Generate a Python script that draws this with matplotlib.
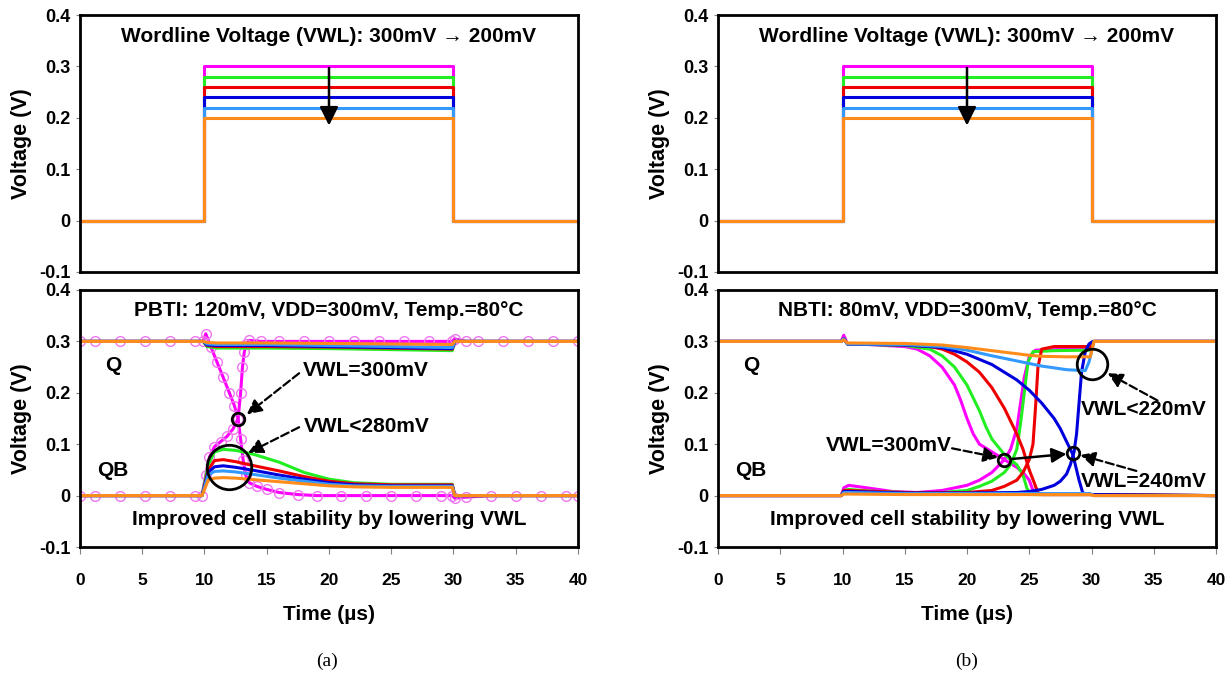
import matplotlib
matplotlib.use('Agg')
import matplotlib.pyplot as plt

plt.rcParams['font.family'] = ['Liberation Sans', 'DejaVu Sans']
plt.rcParams['font.weight'] = 'bold'

# wordline pulse (top panels)
vwl_levels = [0.30, 0.28, 0.26, 0.24, 0.22, 0.20]
colors = ['#ff00ff', '#22ee22', '#ee0000', '#0000dd', '#3399ff', '#ff8c1a']
pulse_t = [0, 10, 10, 30, 30, 40]

# ---- PBTI (a), bottom panel ----
a_q_t = [0, 9.9, 10.2, 11, 15, 20, 25, 29.9, 30.1, 40]
a_q = [
    None,  # magenta handled separately (flips)
    [0.3, 0.3, 0.29, 0.287, 0.287, 0.286, 0.284, 0.282, 0.3, 0.3],
    [0.3, 0.3, 0.292, 0.29, 0.29, 0.289, 0.287, 0.285, 0.3, 0.3],
    [0.3, 0.3, 0.293, 0.292, 0.292, 0.29, 0.288, 0.286, 0.3, 0.3],
    [0.3, 0.3, 0.295, 0.294, 0.294, 0.292, 0.29, 0.288, 0.3, 0.3],
    [0.3, 0.3, 0.298, 0.297, 0.297, 0.296, 0.295, 0.294, 0.3, 0.3],
]
a_qb_t = [0, 9.8, 10.3, 10.8, 11.5, 12.5, 14, 16, 18, 20, 22, 25, 29.9, 30.1, 40]
a_qb = [
    None,
    [0, 0, 0.06, 0.085, 0.09, 0.088, 0.08, 0.065, 0.045, 0.032, 0.025, 0.022, 0.022, 0, 0],
    [0, 0, 0.05, 0.068, 0.07, 0.066, 0.058, 0.048, 0.037, 0.028, 0.023, 0.021, 0.021, 0, 0],
    [0, 0, 0.045, 0.056, 0.058, 0.055, 0.049, 0.04, 0.032, 0.025, 0.021, 0.019, 0.019, 0, 0],
    [0, 0, 0.04, 0.047, 0.048, 0.046, 0.041, 0.034, 0.028, 0.022, 0.019, 0.018, 0.018, 0, 0],
    [0, 0, 0.03, 0.034, 0.035, 0.034, 0.031, 0.027, 0.023, 0.019, 0.017, 0.016, 0.016, 0, 0],
]
# VWL=300mV cell flips (magenta, with circle markers)
a_mq_t = [0, 1.2, 3.2, 5.2, 7.2, 9.2, 9.9, 10.1, 10.5, 11, 11.5, 12, 12.4, 12.7, 12.9, 13.1,
          13.3, 13.6, 14.2, 15, 16, 17.5, 19, 21, 23, 25, 27, 29, 29.9, 30.1, 31, 33, 35, 37, 39, 40]
a_mq = [0.3, 0.3, 0.3, 0.3, 0.3, 0.3, 0.3, 0.315, 0.29, 0.26, 0.23, 0.2, 0.175, 0.15, 0.11, 0.07,
        0.04, 0.025, 0.018, 0.012, 0.006, 0.002, 0.0, 0.0, 0.0, 0.0, 0.0, 0.0, 0.0, -0.005, -0.003,
        0.0, 0.0, 0.0, 0.0, 0.0]
a_mqb_t = [0, 1.2, 3.2, 5.2, 7.2, 9.2, 9.8, 10.1, 10.4, 10.8, 11.3, 11.8, 12.3, 12.7, 12.9,
           13.05, 13.2, 13.35, 13.6, 14.5, 16, 18, 20, 22, 24, 26, 28, 29.9, 30.1, 31, 32, 34, 36, 38, 40]
a_mqb = [0.0, 0.0, 0.0, 0.0, 0.0, 0.0, 0.0, 0.04, 0.075, 0.095, 0.105, 0.115, 0.13, 0.15, 0.2,
         0.25, 0.28, 0.295, 0.302, 0.3, 0.3, 0.3, 0.3, 0.3, 0.3, 0.3, 0.3, 0.3, 0.305, 0.3, 0.3,
         0.3, 0.3, 0.3, 0.3]

# ---- NBTI (b), bottom panel ----
b_q = [
    ([0, 9.9, 10.1, 10.4, 12, 15, 16, 17, 18, 19, 19.5, 20, 20.5, 21, 22, 23, 24, 24.5, 25, 25.3, 25.6, 30, 40],
     [0.3, 0.3, 0.312, 0.295, 0.294, 0.29, 0.285, 0.272, 0.25, 0.215, 0.185, 0.15, 0.12, 0.1, 0.085,
      0.07, 0.055, 0.045, 0.03, 0.01, 0.002, 0.002, 0.0]),
    ([0, 9.9, 10.1, 10.4, 12, 15, 17, 18, 19, 20, 21, 21.5, 22, 23, 24, 24.5, 24.8, 25.1, 30, 40],
     [0.3, 0.3, 0.305, 0.295, 0.294, 0.292, 0.285, 0.272, 0.25, 0.215, 0.165, 0.135, 0.11, 0.08,
      0.06, 0.04, 0.015, 0.002, 0.002, 0.0]),
    ([0, 9.9, 10.1, 10.4, 15, 17, 18, 19, 20, 21, 22, 23, 24, 24.5, 25, 25.4, 25.7, 26, 30, 40],
     [0.3, 0.3, 0.305, 0.295, 0.293, 0.29, 0.285, 0.275, 0.26, 0.24, 0.21, 0.17, 0.12, 0.09, 0.05,
      0.025, 0.005, 0.002, 0.002, 0.0]),
    ([0, 9.9, 10.1, 10.4, 15, 17, 18, 20, 22, 24, 25, 26, 27, 27.5, 28, 28.5, 28.8, 29.0, 29.3, 30, 40],
     [0.3, 0.3, 0.305, 0.295, 0.293, 0.29, 0.288, 0.275, 0.255, 0.225, 0.205, 0.18, 0.15, 0.13,
      0.105, 0.08, 0.05, 0.03, 0.005, 0.002, 0.0]),
    ([0, 9.9, 10.1, 10.4, 15, 18, 20, 22, 24, 26, 28, 29.5, 29.8, 30.2, 40],
     [0.3, 0.3, 0.305, 0.295, 0.294, 0.29, 0.283, 0.272, 0.262, 0.252, 0.245, 0.243, 0.26, 0.3, 0.3]),
    ([0, 9.9, 10.1, 10.4, 15, 18, 20, 22, 24, 25, 26, 28, 29.9, 30.2, 40],
     [0.3, 0.3, 0.303, 0.297, 0.296, 0.293, 0.288, 0.282, 0.276, 0.273, 0.271, 0.27, 0.27, 0.3, 0.3]),
]
b_qb = [
    ([0, 9.9, 10.1, 10.5, 12, 14, 16, 18, 20, 21, 22, 23, 23.5, 24, 24.3, 24.6, 25, 25.5, 27, 29.9, 30.2, 40],
     [0, 0, 0.015, 0.02, 0.015, 0.008, 0.006, 0.01, 0.02, 0.03, 0.045, 0.07, 0.09, 0.13, 0.18,
      0.23, 0.27, 0.283, 0.284, 0.285, 0.3, 0.3]),
    ([0, 9.9, 10.1, 10.5, 12, 15, 18, 20, 21, 22, 23, 23.5, 24, 24.3, 24.6, 24.9, 25.3, 27, 29.9, 30.2, 40],
     [0, 0, 0.01, 0.012, 0.009, 0.006, 0.006, 0.01, 0.018, 0.028, 0.045, 0.06, 0.09, 0.14, 0.2,
      0.26, 0.28, 0.282, 0.283, 0.3, 0.3]),
    ([0, 9.9, 10.1, 10.5, 15, 20, 22, 23, 24, 24.5, 25, 25.3, 25.5, 25.7, 26, 27, 29.9, 30.2, 40],
     [0, 0, 0.01, 0.01, 0.006, 0.006, 0.01, 0.018, 0.03, 0.045, 0.07, 0.1, 0.17, 0.25, 0.285,
      0.29, 0.29, 0.3, 0.3]),
    ([0, 9.9, 10.1, 10.5, 15, 20, 24, 25, 26, 27, 27.5, 28, 28.3, 28.6, 28.8, 29.0, 29.2, 29.5, 29.8, 30.1, 40],
     [0, 0, 0.008, 0.008, 0.005, 0.005, 0.006, 0.008, 0.012, 0.02, 0.028, 0.042, 0.06, 0.085,
      0.12, 0.18, 0.24, 0.28, 0.295, 0.3, 0.3]),
    ([0, 9.9, 10.1, 10.5, 15, 20, 25, 29.9, 30.2, 40],
     [0, 0, 0.006, 0.006, 0.004, 0.004, 0.004, 0.004, 0, 0]),
    ([0, 9.9, 10.1, 10.5, 15, 20, 25, 29.9, 30.2, 40],
     [0, 0, 0.003, 0.003, 0.002, 0.002, 0.002, 0.002, 0, 0]),
]

x_ticks = [0, 5, 10, 15, 20, 25, 30, 35, 40]
y_ticks = [-0.1, 0, 0.1, 0.2, 0.3, 0.4]
y_labels = ['-0.1', '0', '0.1', '0.2', '0.3', '0.4']

LW = 2.2
FS = 15
fig = plt.figure(figsize=(12.32, 6.78), dpi=100)
dashed = dict(arrowstyle='-|>', color='black', lw=1.6, ls='--', mutation_scale=22,
              shrinkA=0, shrinkB=0)
solid = dict(arrowstyle='-|>', color='black', lw=1.8, mutation_scale=22, shrinkA=0, shrinkB=0)


def style(ax, bottom):
    ax.set_xlim(0, 40)
    ax.set_ylim(-0.1, 0.4)
    ax.set_yticks(y_ticks)
    ax.set_yticklabels(y_labels)
    ax.set_ylabel('Voltage (V)', fontsize=15.5, fontweight='bold', labelpad=5)
    for s in ax.spines.values():
        s.set_linewidth(2)
    ax.tick_params(axis='y', length=3, color='gray', labelsize=13, pad=4)
    if bottom:
        ax.set_xticks(x_ticks)
        ax.tick_params(axis='x', length=5, color='gray', labelsize=12.5, pad=14)
        ax.set_xlabel('Time (\u00b5s)', fontsize=15, fontweight='bold', labelpad=12)
    else:
        ax.set_xticks([])


xs = [80 / 1232, 718 / 1232]
w = 498 / 1232
h = 257 / 678
tops = []
bots = []
for x0 in xs:
    at = fig.add_axes([x0, 1 - 272 / 678, w, h])
    ab = fig.add_axes([x0, 1 - 547 / 678, w, h])
    tops.append(at)
    bots.append(ab)
    for lvl, c in zip(vwl_levels, colors):
        at.plot(pulse_t, [0, 0, lvl, lvl, 0, 0], color=c, lw=LW)
    at.text(20, 0.358, 'Wordline Voltage (VWL): 300mV \u2192 200mV', ha='center', va='center',
            fontsize=FS, fontweight='bold')
    at.annotate('', xy=(20, 0.185), xytext=(20, 0.297),
                arrowprops=dict(arrowstyle='-|>', color='black', lw=1.8, mutation_scale=28,
                                shrinkA=0, shrinkB=0))
    style(at, False)
    style(ab, True)

# (a) PBTI
ax = bots[0]
ax.plot(a_mq_t, a_mq, color=colors[0], lw=LW, marker='o', ms=7, mfc='none', mec='#ee77ee', mew=1)
ax.plot(a_mqb_t, a_mqb, color=colors[0], lw=LW, marker='o', ms=7, mfc='none', mec='#ee77ee', mew=1)
for i in range(1, 6):
    ax.plot(a_q_t, a_q[i], color=colors[i], lw=LW)
    ax.plot(a_qb_t, a_qb[i], color=colors[i], lw=LW)
ax.text(20, 0.36, 'PBTI: 120mV, VDD=300mV, Temp.=80\u00b0C', ha='center', va='center',
        fontsize=FS, fontweight='bold')
ax.text(20, -0.047, 'Improved cell stability by lowering VWL', ha='center', va='center',
        fontsize=FS, fontweight='bold')
ax.text(2.7, 0.254, 'Q', ha='center', va='center', fontsize=FS, fontweight='bold')
ax.text(2.6, 0.048, 'QB', ha='center', va='center', fontsize=FS, fontweight='bold')
ax.plot([12.7], [0.15], 'o', ms=9, mfc='none', mec='black', mew=2)
ax.plot([12.0], [0.056], 'o', ms=32, mfc='none', mec='black', mew=2)
ax.text(17.9, 0.244, 'VWL=300mV', ha='left', va='center', fontsize=FS, fontweight='bold')
ax.annotate('', xy=(13.4, 0.158), xytext=(17.6, 0.238), arrowprops=dashed)
ax.text(18.0, 0.135, 'VWL<280mV', ha='left', va='center', fontsize=FS, fontweight='bold')
ax.annotate('', xy=(13.5, 0.083), xytext=(17.6, 0.133), arrowprops=dashed)

# (b) NBTI
ax = bots[1]
for i in range(6):
    ax.plot(b_q[i][0], b_q[i][1], color=colors[i], lw=LW)
    ax.plot(b_qb[i][0], b_qb[i][1], color=colors[i], lw=LW)
ax.text(20, 0.36, 'NBTI: 80mV, VDD=300mV, Temp.=80\u00b0C', ha='center', va='center',
        fontsize=FS, fontweight='bold')
ax.text(20, -0.047, 'Improved cell stability by lowering VWL', ha='center', va='center',
        fontsize=FS, fontweight='bold')
ax.text(2.7, 0.254, 'Q', ha='center', va='center', fontsize=FS, fontweight='bold')
ax.text(2.6, 0.048, 'QB', ha='center', va='center', fontsize=FS, fontweight='bold')
ax.plot([23.0], [0.07], 'o', ms=9, mfc='none', mec='black', mew=2)
ax.plot([28.5], [0.082], 'o', ms=9, mfc='none', mec='black', mew=2)
ax.plot([30.0], [0.257], 'o', ms=22, mfc='none', mec='black', mew=2)
ax.annotate('', xy=(28.0, 0.081), xytext=(23.5, 0.071), arrowprops=solid)
ax.text(13.7, 0.098, 'VWL=300mV', ha='center', va='center', fontsize=FS, fontweight='bold')
ax.annotate('', xy=(22.5, 0.074), xytext=(18.8, 0.092), arrowprops=dashed)
ax.text(34.2, 0.027, 'VWL=240mV', ha='center', va='center', fontsize=FS, fontweight='bold')
ax.annotate('', xy=(29.1, 0.079), xytext=(33.6, 0.048), arrowprops=dashed)
ax.text(34.2, 0.167, 'VWL<220mV', ha='center', va='center', fontsize=FS, fontweight='bold')
ax.annotate('', xy=(31.3, 0.238), xytext=(35.3, 0.185), arrowprops=dashed)

fig.text(327 / 1232, 1 - 661 / 678, '(a)', ha='center', va='center', fontsize=14,
         family='Liberation Serif', fontweight='normal')
fig.text(967 / 1232, 1 - 661 / 678, '(b)', ha='center', va='center', fontsize=14,
         family='Liberation Serif', fontweight='normal')

fig.savefig('out.png', dpi=100)
